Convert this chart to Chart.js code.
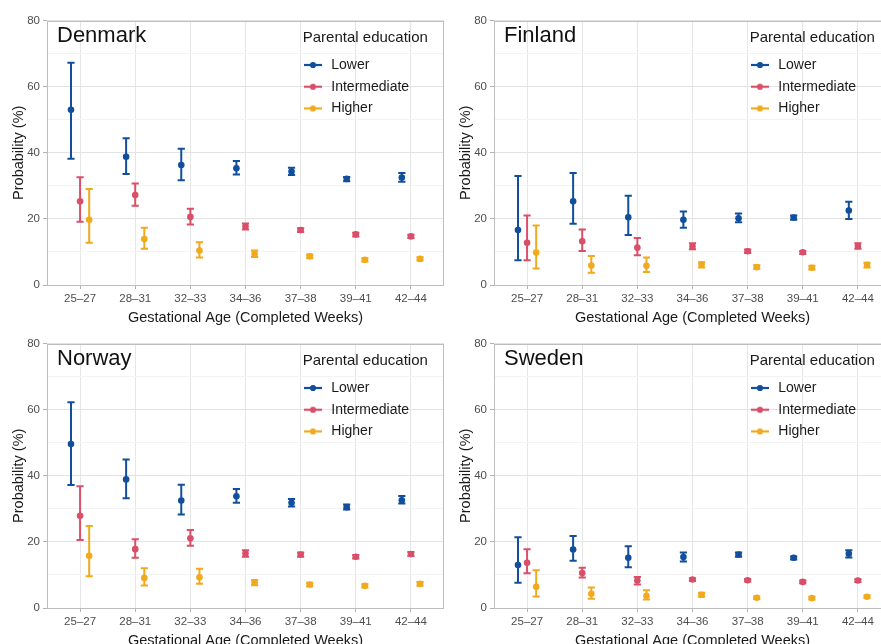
<!DOCTYPE html>
<html><head><meta charset="utf-8">
<script src="https://cdn.jsdelivr.net/npm/chart.js@4/dist/chart.umd.min.js"></script>
<style>
html,body{margin:0;padding:0;background:#fff;}
#wrap{position:relative;width:881px;height:644px;overflow:hidden;background:#fff;}
canvas{position:absolute;}
</style></head><body>
<div id="wrap">
<canvas id="c0" width="447" height="330" style="left:0px;top:0px"></canvas>
<canvas id="c1" width="447" height="330" style="left:447px;top:0px"></canvas>
<canvas id="c2" width="447" height="330" style="left:0px;top:323px"></canvas>
<canvas id="c3" width="447" height="330" style="left:447px;top:323px"></canvas>
</div>
<script>
// ---- categories & labels ----
const categories = ['25\u201327','28\u201331','32\u201333','34\u201336','37\u201338','39\u201341','42\u201344'];
const seriesNames = ['Lower','Intermediate','Higher'];
const countries = ['Denmark','Finland','Norway','Sweden'];
const yTicks = [0, 20, 40, 60, 80];

// ---- Denmark ----
const dkLower    = [53.0, 38.8, 36.3, 35.3, 34.3, 32.1, 32.5];
const dkLowerLo  = [38.2, 33.6, 31.7, 33.4, 33.3, 31.4, 31.2];
const dkLowerHi  = [67.2, 44.4, 41.2, 37.5, 35.5, 32.7, 33.9];
const dkInter    = [25.3, 27.2, 20.6, 17.7, 16.6, 15.3, 14.7];
const dkInterLo  = [19.1, 24.0, 18.3, 16.8, 16.0, 14.7, 14.2];
const dkInterHi  = [32.6, 30.7, 23.1, 18.6, 17.2, 15.8, 15.2];
const dkHigher   = [19.7, 13.9, 10.4, 9.4, 8.7, 7.6, 7.9];
const dkHigherLo = [12.8, 11.0, 8.3, 8.5, 8.1, 7.1, 7.4];
const dkHigherHi = [29.0, 17.3, 12.9, 10.4, 9.2, 8.1, 8.4];

// ---- Finland ----
const fiLower    = [16.6, 25.3, 20.5, 19.7, 20.2, 20.4, 22.5];
const fiLowerLo  = [7.5, 18.5, 15.1, 17.3, 19.0, 19.7, 20.0];
const fiLowerHi  = [33.0, 33.9, 27.0, 22.2, 21.6, 21.0, 25.2];
const fiInter    = [12.8, 13.2, 11.3, 11.7, 10.2, 9.9, 11.8];
const fiInterLo  = [7.5, 10.3, 9.0, 10.8, 9.7, 9.4, 11.0];
const fiInterHi  = [21.0, 16.8, 14.2, 12.6, 10.7, 10.3, 12.6];
const fiHigher   = [9.8, 5.9, 5.8, 6.2, 5.4, 5.2, 6.1];
const fiHigherLo = [5.0, 3.7, 3.9, 5.3, 4.9, 4.7, 5.3];
const fiHigherHi = [18.0, 8.8, 8.3, 6.9, 6.0, 5.8, 6.7];

// ---- Norway ----
const noLower    = [49.6, 38.9, 32.5, 33.8, 31.8, 30.5, 32.6];
const noLowerLo  = [37.2, 33.2, 28.3, 31.8, 30.7, 29.8, 31.6];
const noLowerHi  = [62.2, 44.9, 37.3, 36.0, 33.0, 31.3, 33.9];
const noInter    = [27.9, 17.8, 21.1, 16.5, 16.2, 15.5, 16.3];
const noInterLo  = [20.6, 15.2, 18.8, 15.5, 15.5, 15.0, 15.7];
const noInterHi  = [36.8, 20.8, 23.6, 17.5, 16.8, 16.0, 16.9];
const noHigher   = [15.8, 9.1, 9.3, 7.7, 7.1, 6.7, 7.3];
const noHigherLo = [9.6, 6.8, 7.3, 6.9, 6.5, 6.2, 6.7];
const noHigherHi = [24.8, 12.0, 11.9, 8.5, 7.6, 7.2, 7.9];

// ---- Sweden ----
const seLower    = [13.0, 17.7, 15.2, 15.4, 16.2, 15.2, 16.4];
const seLowerLo  = [7.6, 14.3, 12.3, 14.1, 15.5, 14.7, 15.3];
const seLowerHi  = [21.4, 21.8, 18.7, 16.8, 16.8, 15.6, 17.5];
const seInter    = [13.7, 10.6, 8.3, 8.6, 8.4, 7.9, 8.3];
const seInterLo  = [10.5, 9.2, 7.1, 8.2, 8.0, 7.5, 7.9];
const seInterHi  = [17.8, 12.2, 9.4, 9.0, 8.8, 8.3, 8.7];
const seHigher   = [6.4, 4.3, 3.7, 4.0, 3.1, 3.0, 3.4];
const seHigherLo = [3.5, 2.8, 2.6, 3.4, 2.7, 2.6, 3.0];
const seHigherHi = [11.4, 6.2, 5.4, 4.6, 3.5, 3.4, 3.8];

// ---- styling ----
const COLORS = ['#114f9c', '#d94f69', '#f1a91d'];
const DODGE = [-0.165, 0, 0.165];
Chart.defaults.font.family = '"Liberation Sans", Arial, Helvetica, sans-serif';

function legendIcon(color){
  const c = document.createElement('canvas');
  c.width = 18; c.height = 8;
  const g = c.getContext('2d');
  g.strokeStyle = color; g.lineWidth = 2.2;
  g.beginPath(); g.moveTo(0, 4); g.lineTo(18, 4); g.stroke();
  g.fillStyle = color;
  g.beginPath(); g.arc(9, 4, 3.1, 0, Math.PI * 2); g.fill();
  return c;
}
const ICONS = COLORS.map(legendIcon);

const panelDecor = {
  id: 'panelDecor',
  beforeDatasetsDraw(chart) {
    const ca = chart.chartArea, ctx = chart.ctx;
    ctx.save();
    ctx.strokeStyle = '#bdbdbd';
    ctx.lineWidth = 1;
    ctx.strokeRect(Math.round(ca.left) + 0.5, Math.round(ca.top) + 0.5,
                   Math.round(ca.right - ca.left) - 1, Math.round(ca.bottom - ca.top) - 1);
    ctx.restore();
  },
  afterDraw(chart, args, opts) {
    const ca = chart.chartArea, ctx = chart.ctx;
    ctx.save();
    ctx.fillStyle = '#111';
    ctx.font = '22px "Liberation Sans", Arial, sans-serif';
    ctx.textBaseline = 'alphabetic';
    ctx.textAlign = 'left';
    ctx.fillText(opts.name || '', ca.left + 10, ca.top + 21.2);
    ctx.restore();
  }
};

const legendPlace = {
  id: 'legendPlace',
  afterLayout(chart) {
    const lg = chart.legend; if (!lg) return;
    const ca = chart.chartArea;
    lg.left = ca.left + 247;
    lg.top = ca.top + 10.3;
    lg.width = 142.6;
    lg.right = lg.left + lg.width;
    lg.bottom = ca.bottom;
    lg.height = lg.bottom - lg.top;
  }
};

const panels = [
  {id: 'c0', name: countries[0], series: [[dkLower, dkLowerLo, dkLowerHi], [dkInter, dkInterLo, dkInterHi], [dkHigher, dkHigherLo, dkHigherHi]]},
  {id: 'c1', name: countries[1], series: [[fiLower, fiLowerLo, fiLowerHi], [fiInter, fiInterLo, fiInterHi], [fiHigher, fiHigherLo, fiHigherHi]]},
  {id: 'c2', name: countries[2], series: [[noLower, noLowerLo, noLowerHi], [noInter, noInterLo, noInterHi], [noHigher, noHigherLo, noHigherHi]]},
  {id: 'c3', name: countries[3], series: [[seLower, seLowerLo, seLowerHi], [seInter, seInterLo, seInterHi], [seHigher, seHigherLo, seHigherHi]]}
];

function makeChart(p) {
  const datasets = [];
  p.series.forEach((s, k) => {
    datasets.push({
      type: 'scatter', label: seriesNames[k], isKey: true, seriesIndex: k,
      data: s[0].map((v, i) => ({x: i + DODGE[k], y: v})),
      pointRadius: 3.3, pointHoverRadius: 3.3, pointBorderWidth: 0,
      pointBackgroundColor: COLORS[k], backgroundColor: COLORS[k], borderColor: COLORS[k],
      order: 0
    });
  });
  p.series.forEach((s, k) => {
    const d = [];
    s[1].forEach((lo, i) => {
      const hi = s[2][i];
      d.push({x: i + DODGE[k], y: lo}, {x: i + DODGE[k], y: hi}, {x: i + DODGE[k], y: null});
    });
    datasets.push({
      type: 'line', label: seriesNames[k] + ' CI', data: d,
      borderColor: COLORS[k], backgroundColor: COLORS[k], borderWidth: 2,
      pointStyle: 'line', pointRadius: 3.6, pointHoverRadius: 3.6, pointBorderWidth: 2,
      pointBorderColor: COLORS[k], spanGaps: false, fill: false, tension: 0,
      order: 1
    });
  });

  new Chart(document.getElementById(p.id), {
    type: 'scatter',
    data: {datasets},
    plugins: [panelDecor, legendPlace],
    options: {
      responsive: false, animation: false, events: [],
      devicePixelRatio: 1,
      layout: {autoPadding: false, padding: {left: 0, right: 3, top: 20.5, bottom: 0}},
      scales: {
        x: {
          type: 'linear', min: -0.6, max: 6.6,
          afterBuildTicks: a => { a.ticks = categories.map((c, i) => ({value: i})); },
          afterFit: a => { a.height = 45; a.paddingLeft = 0; a.paddingRight = 0; },
          ticks: {callback: v => categories[v] !== undefined ? categories[v] : '',
                  color: '#4d4d4d', font: {size: 11.5}, padding: 2.5, maxRotation: 0, autoSkip: false},
          grid: {color: '#e6e6e6', lineWidth: 1, tickLength: 4, tickColor: '#b3b3b3', drawTicks: true},
          border: {display: false},
          title: {display: true, text: 'Gestational Age (Completed Weeks)', color: '#1a1a1a',
                  font: {size: 14.5}, padding: {top: 0, bottom: 3.8}}
        },
        y: {
          min: 0, max: 80,
          afterFit: a => { a.width = 47; },
          ticks: {stepSize: 10, callback: v => yTicks.includes(v) ? String(v) : '',
                  color: '#4d4d4d', font: {size: 11.5}, padding: 3, autoSkip: false},
          grid: {
            color: c => (c.tick && yTicks.includes(c.tick.value)) ? '#e3e3e3' : '#f3f3f3',
            tickColor: c => (c.tick && yTicks.includes(c.tick.value)) ? '#b3b3b3' : 'rgba(0,0,0,0)',
            tickLength: 4, lineWidth: 1
          },
          border: {display: false},
          title: {display: true, text: 'Probability (%)', color: '#1a1a1a',
                  font: {size: 14.5}, padding: {top: 10.3, bottom: 0}}
        }
      },
      plugins: {
        panelDecor: {name: p.name},
        tooltip: {enabled: false},
        legend: {
          display: true, position: 'chartArea', align: 'start',
          title: {display: true, text: 'Parental education', position: 'center', color: '#1a1a1a',
                  font: {size: 15}, padding: {top: 0, bottom: 1.5}},
          labels: {
            usePointStyle: true, pointStyleWidth: 22.6, padding: 7.7, color: '#1a1a1a',
            font: {size: 14},
            generateLabels: chart => chart.data.datasets
              .map((d, i) => ({d, i}))
              .filter(o => o.d.isKey)
              .map(o => ({
                text: o.d.label, pointStyle: ICONS[o.d.seriesIndex],
                fillStyle: o.d.backgroundColor, strokeStyle: o.d.borderColor,
                lineWidth: 0, hidden: false, datasetIndex: o.i, fontColor: '#1a1a1a'
              }))
          }
        }
      }
    }
  });
}
panels.forEach(makeChart);
</script>
</body></html>
